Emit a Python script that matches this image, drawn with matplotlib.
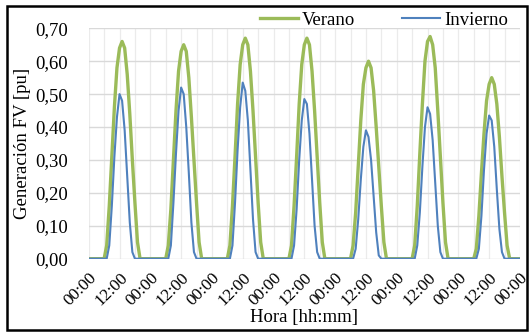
import matplotlib
matplotlib.use("Agg")
import matplotlib.pyplot as plt
from matplotlib.patches import Rectangle
import numpy as np

# Hourly PV generation (pu) over one week, one list per day (hours 0..23)
verano_d1 = [0]*7 + [0.04, 0.16, 0.31, 0.46, 0.58, 0.64, 0.66, 0.64, 0.56, 0.44, 0.30, 0.17, 0.05] + [0]*4
verano_d2 = [0]*7 + [0.04, 0.15, 0.30, 0.45, 0.57, 0.63, 0.65, 0.63, 0.55, 0.43, 0.30, 0.17, 0.05] + [0]*4
verano_d3 = [0]*7 + [0.04, 0.16, 0.31, 0.47, 0.59, 0.65, 0.67, 0.65, 0.57, 0.45, 0.31, 0.17, 0.05] + [0]*4
verano_d4 = [0]*7 + [0.04, 0.16, 0.31, 0.47, 0.59, 0.65, 0.67, 0.65, 0.57, 0.45, 0.31, 0.17, 0.05] + [0]*4
verano_d5 = [0]*7 + [0.04, 0.14, 0.28, 0.42, 0.53, 0.58, 0.60, 0.58, 0.51, 0.40, 0.28, 0.16, 0.05] + [0]*4
verano_d6 = [0]*7 + [0.04, 0.16, 0.32, 0.47, 0.60, 0.66, 0.675, 0.65, 0.58, 0.45, 0.31, 0.17, 0.05] + [0]*4
verano_d7 = [0]*7 + [0.03, 0.13, 0.26, 0.38, 0.48, 0.53, 0.55, 0.53, 0.47, 0.37, 0.25, 0.14, 0.04] + [0]*4

invierno_d1 = [0]*8 + [0.04, 0.16, 0.31, 0.43, 0.50, 0.48, 0.39, 0.25, 0.11, 0.02] + [0]*6
invierno_d2 = [0]*8 + [0.04, 0.17, 0.32, 0.45, 0.52, 0.50, 0.40, 0.26, 0.11, 0.02] + [0]*6
invierno_d3 = [0]*8 + [0.04, 0.17, 0.33, 0.46, 0.535, 0.51, 0.42, 0.27, 0.12, 0.02] + [0]*6
invierno_d4 = [0]*8 + [0.04, 0.15, 0.30, 0.42, 0.485, 0.47, 0.38, 0.24, 0.10, 0.02] + [0]*6
invierno_d5 = [0]*8 + [0.03, 0.12, 0.24, 0.34, 0.39, 0.37, 0.30, 0.19, 0.08, 0.01] + [0]*6
invierno_d6 = [0]*8 + [0.04, 0.14, 0.28, 0.40, 0.46, 0.44, 0.36, 0.23, 0.10, 0.02] + [0]*6
invierno_d7 = [0]*8 + [0.03, 0.13, 0.27, 0.38, 0.435, 0.42, 0.34, 0.21, 0.09, 0.02] + [0]*6

end_value = [0]  # closing 00:00 sample

verano = (verano_d1 + verano_d2 + verano_d3 + verano_d4 + verano_d5
          + verano_d6 + verano_d7 + end_value)
invierno = (invierno_d1 + invierno_d2 + invierno_d3 + invierno_d4 + invierno_d5
            + invierno_d6 + invierno_d7 + end_value)

hours = np.arange(len(verano))

x_tick_labels = ["00:00", "12:00"] * 7 + ["00:00"]
y_ticks = [0.0, 0.1, 0.2, 0.3, 0.4, 0.5, 0.6, 0.7]
y_tick_labels = ["0,00", "0,10", "0,20", "0,30", "0,40", "0,50", "0,60", "0,70"]

plt.rcParams["font.family"] = ["Liberation Serif", "DejaVu Serif"]

fig = plt.figure(figsize=(5.30, 3.32), dpi=100)
ax = fig.add_axes([0.1674, 0.2208, 0.8136, 0.694])

green = "#9BBB59"
blue = "#4F81BD"

ax.plot(hours, verano, color=green, lw=2.4, label="Verano", solid_joinstyle="round", zorder=3)
ax.plot(hours, invierno, color=blue, lw=1.5, label="Invierno", solid_joinstyle="round", zorder=4)

ax.set_xlim(0, hours[-1])
ax.set_ylim(0, 0.70)

# vertical grid every 6 h, horizontal every 0,10
for xv in np.arange(0, hours[-1] + 1, 6):
    ax.axvline(xv, color="#EBEBEB", lw=0.9, zorder=1)
for yv in y_ticks:
    ax.axhline(yv, color="#D9D9D9", lw=1.0, zorder=1)

ax.set_yticks(y_ticks)
ax.set_yticklabels(y_tick_labels, fontsize=13.5)
ax.set_xticks(np.arange(0, hours[-1] + 1, 12))
ax.set_xticklabels(x_tick_labels, fontsize=12.5, rotation=45, ha="right",
                   va="top", rotation_mode="anchor")
ax.tick_params(axis="both", length=0)
ax.tick_params(axis="y", pad=15)
ax.tick_params(axis="x", pad=8)

for s in ax.spines.values():
    s.set_visible(False)

ax.set_ylabel("Generación FV [pu]", fontsize=13.5)
ax.yaxis.set_label_coords(-0.135, 0.5)
ax.set_xlabel("Hora [hh:mm]", fontsize=13.5, labelpad=0)

fig.legend(loc="center left", bbox_to_anchor=(260 / 530, 1 - 20 / 332),
           bbox_transform=fig.transFigure, ncol=2, frameon=False, fontsize=13.5,
           handlelength=2.0, handletextpad=0.25, columnspacing=2.5, borderpad=0,
           borderaxespad=0)

fig.add_artist(Rectangle((7 / 530, 1 - 330 / 332), 520 / 530, 324 / 332,
                         transform=fig.transFigure, fill=False, ec="black", lw=1.8))

fig.savefig("out.png", dpi=100, facecolor="white")
